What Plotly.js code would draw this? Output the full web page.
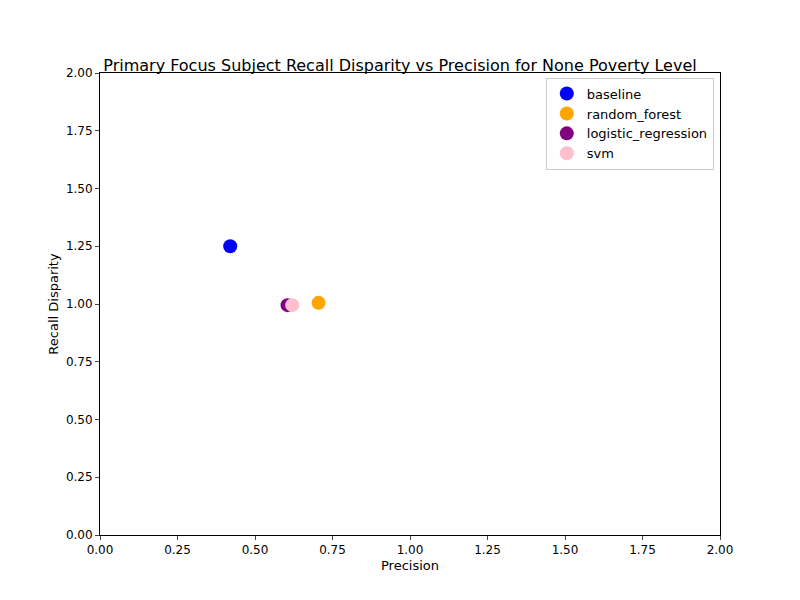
<!DOCTYPE html>
<html>
<head>
<meta charset="utf-8">
<script src="https://cdn.plot.ly/plotly-3.0.1.min.js"></script>
</head>
<body style="margin:0">
<div id="plot"></div>
<script>
// one point per model
const models = ["baseline", "random_forest", "logistic_regression", "svm"];
const colors = ["blue", "orange", "purple", "pink"];
const precision = [0.42, 0.705, 0.605, 0.62];
const recallDisparity = [1.25, 1.005, 0.995, 0.995];

const data = models.map((m, i) => ({
  x: [precision[i]],
  y: [recallDisparity[i]],
  name: m,
  mode: "markers",
  type: "scatter",
  marker: {color: colors[i], size: 14}
}));

const axis = {
  range: [0, 2], dtick: 0.25, tickformat: ".2f",
  showgrid: false, zeroline: false, showline: true, mirror: true,
  linecolor: "black", ticks: "outside", ticklen: 4
};

const layout = {
  width: 800, height: 600,
  margin: {t: 73, r: 80, b: 65, l: 100},
  font: {family: "DejaVu Sans", size: 12, color: "black"},
  title: {text: "Primary Focus Subject Recall Disparity vs Precision for None Poverty Level", font: {size: 16}, x: 0.5, y: 0.9},
  xaxis: Object.assign({}, axis, {title: {text: "Precision", font: {size: 13}, standoff: 4}}),
  yaxis: Object.assign({}, axis, {title: {text: "Recall Disparity", font: {size: 13}, standoff: 4}}),
  legend: {x: 0.99, y: 0.99, xanchor: "right", yanchor: "top", bordercolor: "#ccc", borderwidth: 1, font: {size: 13}, tracegroupgap: 0},
  showlegend: true
};

Plotly.newPlot("plot", data, layout, {displayModeBar: false});
</script>
</body>
</html>
